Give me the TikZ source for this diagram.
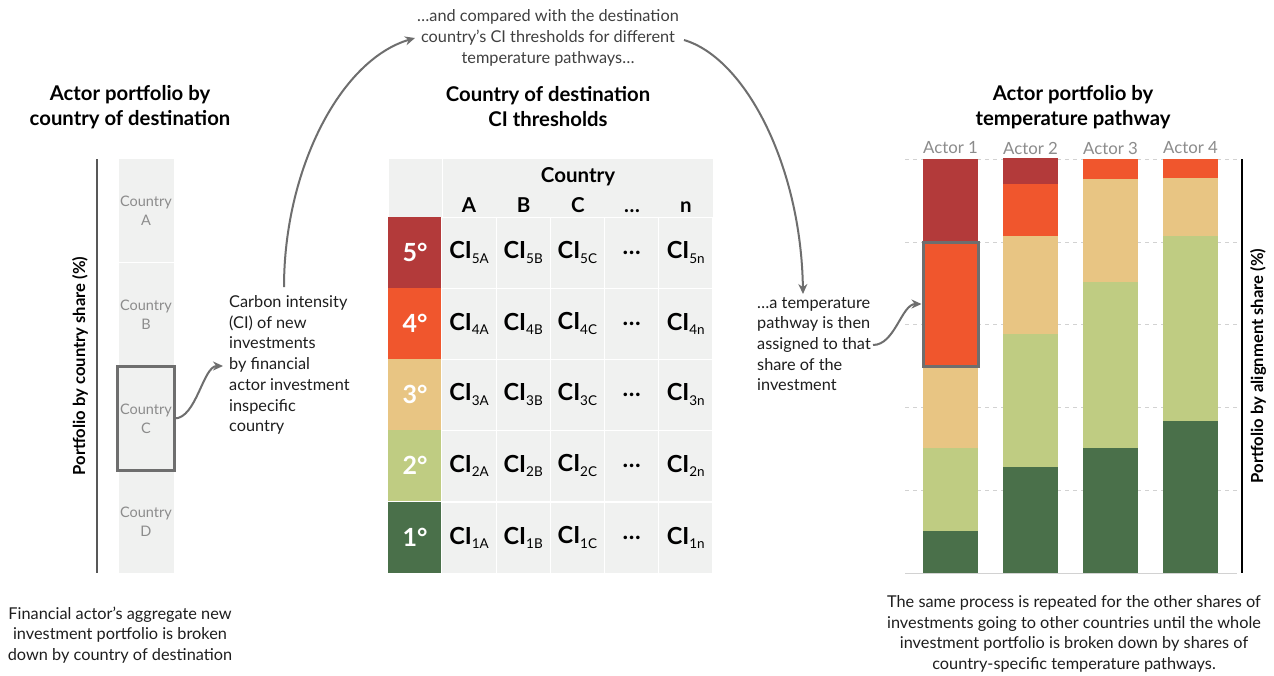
\documentclass[tikz,border=0pt]{standalone}
\usepackage{fontspec}
\setmainfont{Lato}
\usetikzlibrary{arrows.meta}
\definecolor{cfive}{HTML}{B33A3A}
\definecolor{cfour}{HTML}{F0562D}
\definecolor{cthree}{HTML}{E8C583}
\definecolor{ctwo}{HTML}{BFCC82}
\definecolor{cone}{HTML}{4A704A}
\definecolor{cellbg}{HTML}{F0F1F0}
\definecolor{hl}{HTML}{6E6E6E}
\definecolor{labgray}{HTML}{8C8C8C}
\definecolor{txt}{HTML}{1E1E1E}
\definecolor{gridc}{HTML}{D2D2D2}
\newcommand\cisub[1]{\textbf{CI}\raisebox{-0.35ex}{\fontsize{13.5}{13.5}\selectfont #1}}
\tikzset{
  ttl/.style={font=\fontsize{20.3}{25}\selectfont\bfseries, align=center, text=black, inner sep=0pt},
  body/.style={font=\fontsize{16.3}{20.7}\selectfont, text=txt, inner sep=0pt},
  conn/.style={draw=hl, line width=2pt, -{Stealth[length=10pt,width=9pt]}},
  hlbox/.style={draw=hl, line width=3pt},
  country/.style={minimum width=56pt, minimum height=103.5pt, fill=cellbg, draw=white, line width=0.8pt, text=labgray, align=center, font=\fontsize{14.5}{19}\selectfont, inner sep=0pt},
  cell/.style={minimum width=54.2pt, minimum height=71pt, fill=cellbg, draw=white, line width=1pt, inner sep=0pt, text=black},
  deg/.style={minimum width=54pt, minimum height=71pt, inner sep=0pt, text=white, font=\fontsize{25}{25}\selectfont\bfseries},
  cifont/.style={font=\fontsize{23.5}{23.5}\selectfont},
  hdr/.style={font=\fontsize{20.5}{20.5}\selectfont\bfseries, inner sep=0pt},
  actor/.style={font=\fontsize{16.8}{16.8}\selectfont, text=labgray, inner sep=0pt},
  axlab/.style={font=\fontsize{16.6}{16.6}\selectfont\bfseries, rotate=90, inner sep=0pt},
  gridl/.style={draw=gridc, line width=0.8pt, dash pattern=on 4pt off 4pt},
}
\begin{document}
\begin{tikzpicture}[x=1pt,y=-1pt]
\useasboundingbox (0,0) rectangle (1274,675);
\fill[white] (0,0) rectangle (1274,675);

% ---------- titles ----------
\node[ttl] (t1) at (130,107) {Actor portfolio by\\country of destination};
\node[ttl] (t2) at (548,107) {Country of destination\\CI thresholds};
\node[ttl] (t3) at (1073,107) {Actor portfolio by\\temperature pathway};

% ---------- left column ----------
\draw[draw=hl!80!black, line width=1.2pt] (97,159) -- (97,573);
\node[axlab] (ylab1) at (80,366) {Portfolio by country share (\%)};
\node[country] (ca) at (146,210.5) {Country\\A};
\node[country] (cb) at (146,314.5) {Country\\B};
\node[country] (cc) at (146,418.5) {Country\\C};
\node[country] (cd) at (146,521.5) {Country\\D};
\draw[hlbox] (cc.south west) rectangle (cc.north east);

\node[body, align=left, anchor=west] (citext) at (229,365) {Carbon intensity\\(CI) of new\\investments\\by financial\\actor investment\\inspecific\\country};
\coordinate (ciend) at (223,366);
\draw[conn] (cc.east) .. controls +(22,0) and +(-20,0) .. (ciend);

% ---------- top arcs and text ----------
\node[body, align=center, text=txt!85] (toptext) at (548,38) {…and compared with the destination\\country’s CI thresholds for different\\temperature pathways…};
\coordinate (arcLs) at (284,287);
\coordinate (arcLe) at (415,38);
\draw[conn] (arcLs) .. controls (284,170) and (340,60) .. (arcLe);
\coordinate (arcRs) at (684,40);
\coordinate (arcRe) at (803,294);
\draw[conn] (arcRs) .. controls (745,58) and (801,165) .. (arcRe);

% ---------- table ----------
\node[cell, minimum width=54pt, minimum height=59pt] (tl) at (415,187.5) {};
\node[cell, minimum width=271pt, minimum height=59pt] (hd) at (577.5,187.5) {};
\node[hdr] (hcountry) at (578,177) {Country};
\node[hdr, anchor=base] (hA) at (469,212) {A};
\node[hdr, anchor=base] (hB) at (523.5,212) {B};
\node[hdr, anchor=base] (hC) at (578,212) {C};
\node[hdr, anchor=base] (hD) at (632,212) {…};
\node[hdr, anchor=base] (hn) at (686,212) {n};
\foreach \r/\c/\yt in {5/cfive/217,4/cfour/288,3/cthree/359,2/ctwo/430,1/cone/502}{
  \node[deg, fill=\c] (d\r) at (415,\yt+35.5) {\r°};
  \foreach \col/\xc in {A/469,B/523.2,C/577.4,n/685.8}{
    \node[cell, cifont] (c\r\col) at (\xc,\yt+35.5) {\cisub{\r\col}};
  }
  \node[cell, cifont] (c\r x) at (631.6,\yt+35.5) {\textbf{…}};
}

% ---------- right chart ----------
\foreach \yy in {159,242,324,407,490}{
  \draw[gridl] (905,\yy) -- (1237,\yy);
}
\draw[draw=gridc, line width=1pt] (905,573) -- (1237,573);
\draw[black, line width=1.2pt] (1242,159) -- (1242,573);
\node[axlab] (ylab2) at (1258,366) {Portfolio by alignment share (\%)};

% Actor 1
\fill[cfive]  (923,159) rectangle (978,242);
\fill[cthree] (923,366) rectangle (978,448);
\fill[ctwo]   (923,448) rectangle (978,531);
\fill[cone]   (923,531) rectangle (978,573);
\node[hlbox, fill=cfour, minimum width=55pt, minimum height=124pt, inner sep=0pt] (a1o) at (950.5,304) {};
% Actor 2
\fill[cfive]  (1003,158) rectangle (1058,184);
\fill[cfour]  (1003,184) rectangle (1058,236);
\fill[cthree] (1003,236) rectangle (1058,334);
\fill[ctwo]   (1003,334) rectangle (1058,467);
\fill[cone]   (1003,467) rectangle (1058,573);
% Actor 3
\fill[cfour]  (1083,159) rectangle (1138,179);
\fill[cthree] (1083,179) rectangle (1138,282);
\fill[ctwo]   (1083,282) rectangle (1138,448);
\fill[cone]   (1083,448) rectangle (1138,573);
% Actor 4
\fill[cfour]  (1163,159) rectangle (1218,178);
\fill[cthree] (1163,178) rectangle (1218,236);
\fill[ctwo]   (1163,236) rectangle (1218,421);
\fill[cone]   (1163,421) rectangle (1218,573);

\node[actor] (ac1) at (950.5,148) {Actor 1};
\node[actor] (ac2) at (1030.5,148) {Actor 2};
\node[actor] (ac3) at (1110.5,148) {Actor 3};
\node[actor] (ac4) at (1190.5,148) {Actor 4};

\node[body, align=left, anchor=west] (tptext) at (757,344) {…a temperature\\pathway is then\\assigned to that\\share of the\\investment};
\coordinate (tpstart) at (873,345);
\draw[conn] (tpstart) .. controls +(22,0) and +(-20,0) .. (a1o.west);

% ---------- bottom texts ----------
\node[body, align=center] (bl) at (120,635) {Financial actor’s aggregate new\\investment portfolio is broken\\down by country of destination};
\node[body, align=center] (br) at (1074,634) {The same process is repeated for the other shares of\\investments going to other countries until the whole\\investment portfolio is broken down by shares of\\country-specific temperature pathways.};
\end{tikzpicture}
\end{document}
